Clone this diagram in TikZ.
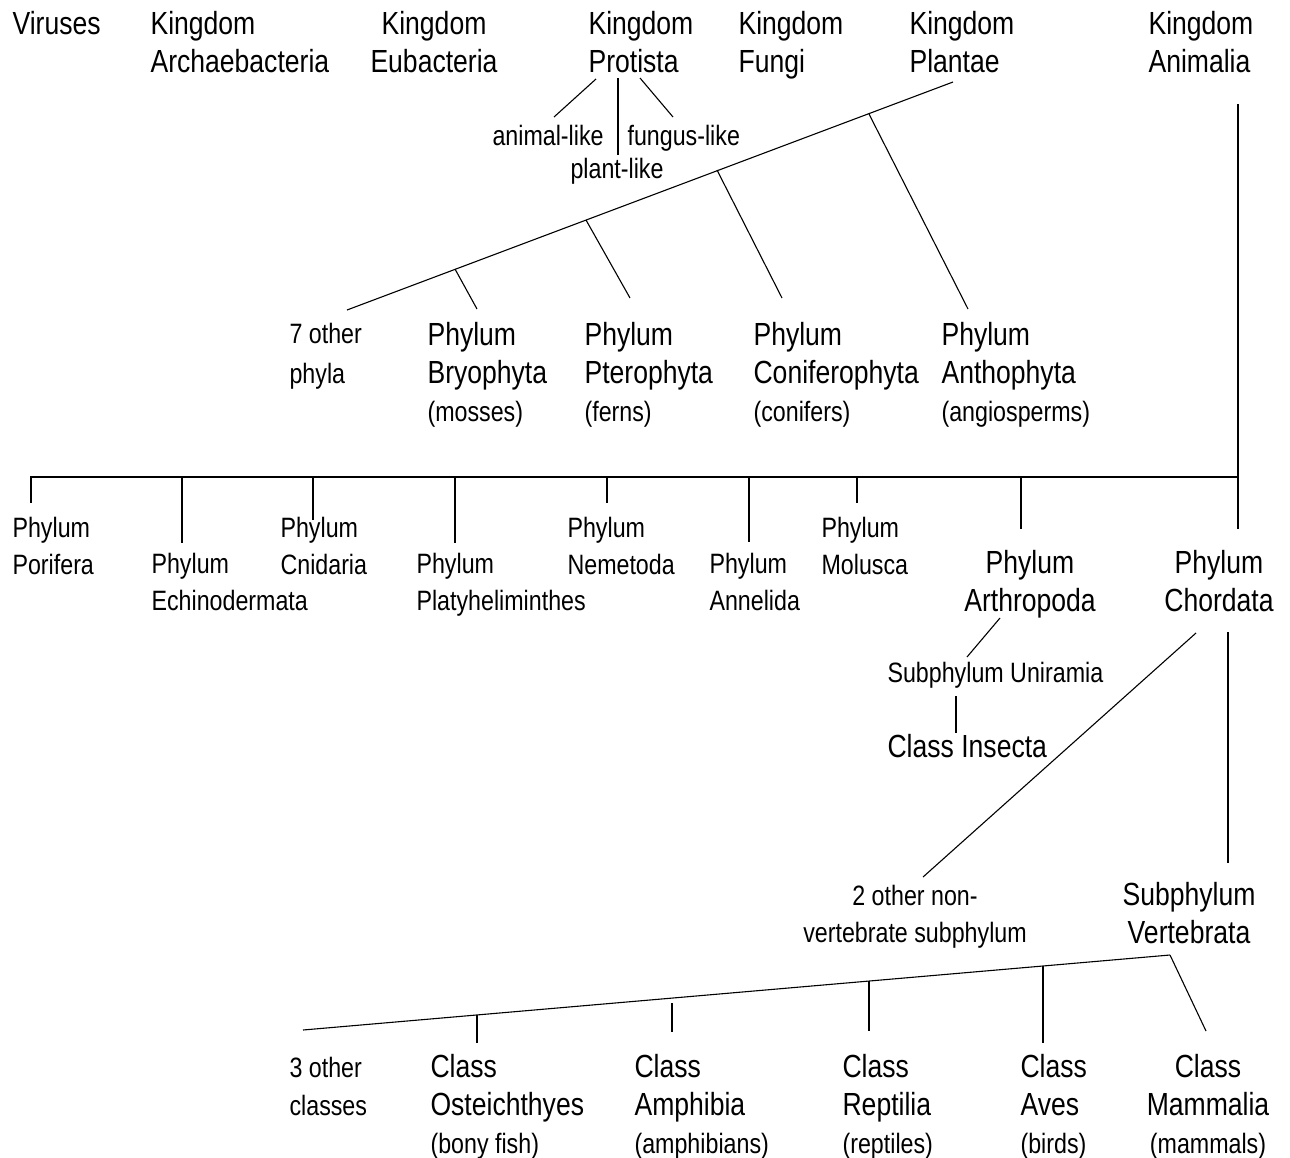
\documentclass[tikz,border=0pt]{standalone}
\usepackage{fontspec}
\setmainfont{Liberation Sans}[FakeStretch=0.83]
\newcommand{\commonname}[1]{{\fontsize{28}{34}\selectfont #1}}
\begin{document}
\begin{tikzpicture}[x=1pt,y=-1pt,line width=1.1pt,
                    big node/.style={font=\fontsize{32}{38}\selectfont,inner sep=0pt,anchor=north west,align=left},
                    small node/.style={font=\fontsize{28}{37}\selectfont,inner sep=0pt,anchor=north west,align=left}]
  \useasboundingbox[fill=white] (0,0) rectangle (1290,1157);

  % kingdoms
  \node[big node] (viruses) at (12,10.5) {Viruses};
  \node[big node] (archae) at (150,10.5) {Kingdom\\Archaebacteria};
  \node[big node,anchor=north,align=center] (eubact) at (434,10.5) {Kingdom\\Eubacteria};
  \node[big node] (protista) at (588,10.5) {Kingdom\\Protista};
  \node[big node] (fungi) at (738,10.5) {Kingdom\\Fungi};
  \node[big node] (plantae) at (909,10.5) {Kingdom\\Plantae};
  \node[big node] (animalia) at (1148,10.5) {Kingdom\\Animalia};

  % protists
  \node[small node] (animal) at (492,125) {animal-like};
  \node[small node] (fungus) at (627,125) {fungus-like};
  \node[small node] (plant) at (570,158) {plant-like};

  % plant phyla
  \node[small node] (otherphyla) at (289,323) {7 other\\[3pt]phyla};
  \node[big node] (bryo) at (427,321.5) {Phylum\\Bryophyta\\\commonname{(mosses)}};
  \node[big node] (ptero) at (584,321.5) {Phylum\\Pterophyta\\\commonname{(ferns)}};
  \node[big node] (conif) at (753,321.5) {Phylum\\Coniferophyta\\\commonname{(conifers)}};
  \node[big node] (antho) at (941,321.5) {Phylum\\Anthophyta\\\commonname{(angiosperms)}};

  % animal phyla
  \node[small node] (porifera) at (12,517) {Phylum\\Porifera};
  \node[small node] (echino) at (151,553) {Phylum\\Echinodermata};
  \node[small node] (cnidaria) at (280,517) {Phylum\\Cnidaria};
  \node[small node] (platy) at (416,553) {Phylum\\Platyheliminthes};
  \node[small node] (nemat) at (567,517) {Phylum\\Nemetoda};
  \node[small node] (annel) at (709,553) {Phylum\\Annelida};
  \node[small node] (mollus) at (821,517) {Phylum\\Molusca};
  \node[big node,anchor=north,align=center] (arthro) at (1030,549.5) {Phylum\\Arthropoda};
  \node[big node,anchor=north,align=center] (chordata) at (1219,549.5) {Phylum\\Chordata};

  \node[small node] (uniramia) at (887,662) {Subphylum Uniramia};
  \node[big node] (insecta) at (887,733.5) {Class Insecta};
  \node[small node,anchor=north,align=center] (nonvert) at (915,885) {2 other non-\\vertebrate subphylum};
  \node[big node,anchor=north,align=center] (vertebr) at (1189,881.5) {Subphylum\\Vertebrata};

  % classes
  \node[small node] (otherclass) at (289,1057) {3 other\\[1pt]classes};
  \node[big node] (osteich) at (430,1053.5) {Class\\Osteichthyes\\\commonname{(bony fish)}};
  \node[big node] (amphib) at (634,1053.5) {Class\\Amphibia\\\commonname{(amphibians)}};
  \node[big node] (reptil) at (842,1053.5) {Class\\Reptilia\\\commonname{(reptiles)}};
  \node[big node] (aves) at (1020,1053.5) {Class\\Aves\\\commonname{(birds)}};
  \node[big node,anchor=north,align=center] (mammal) at (1208,1053.5) {Class\\Mammalia\\\commonname{(mammals)}};

  % line ends
  \coordinate (pr-a) at (596,79);  \coordinate (animal-t) at (554,117);
  \coordinate (pr-p) at (618,78);  \coordinate (plant-t) at (618,155);
  \coordinate (pr-f) at (640,78);  \coordinate (fungus-t) at (673,117);

  \coordinate (pl-top) at (953,82);  \coordinate (pl-end) at (347,310);
  \coordinate (pl-1) at (455,269);   \coordinate (bryo-t) at (477,309);
  \coordinate (pl-2) at (586,220);   \coordinate (ptero-t) at (630,298);
  \coordinate (pl-3) at (717,170);   \coordinate (conif-t) at (782,298);
  \coordinate (pl-4) at (869,114);   \coordinate (antho-t) at (968,309);

  \coordinate (an-top) at (1238,104); \coordinate (an-bar) at (1238,477);
  \coordinate (chord-t) at (1238,529); \coordinate (bar-end) at (30,477);
  \coordinate (porifera-t) at (31,503);  \coordinate (echino-t) at (182,543);
  \coordinate (cnidaria-t) at (313,520); \coordinate (platy-t) at (455,543);
  \coordinate (nemat-t) at (607,503);    \coordinate (annel-t) at (749,542);
  \coordinate (mollus-t) at (857,503);   \coordinate (arthro-t) at (1021,529);

  \coordinate (arthro-b) at (1000,618); \coordinate (uniramia-t) at (967,657);
  \coordinate (uniramia-b) at (956,696); \coordinate (insecta-t) at (956,733);
  \coordinate (chord-b1) at (1196,633); \coordinate (nonvert-t) at (923,877);
  \coordinate (chord-b2) at (1228,632); \coordinate (vertebr-t) at (1228,863);

  \coordinate (ve-top) at (1170,955); \coordinate (ve-end) at (303,1030);
  \coordinate (mammal-t) at (1206,1031);
  \coordinate (ve-1) at (477,1015); \coordinate (osteich-t) at (477,1043);
  \coordinate (ve-2) at (672,1003); \coordinate (amphib-t) at (672,1032);
  \coordinate (ve-3) at (869,981);  \coordinate (reptil-t) at (869,1031);
  \coordinate (ve-4) at (1043,966); \coordinate (aves-t) at (1043,1043);

  \path[draw]
    (pr-a) edge (animal-t)
    (pr-p) edge (plant-t)
    (pr-f) edge (fungus-t)
    (pl-top) edge (pl-end)
    (pl-1) edge (bryo-t)
    (pl-2) edge (ptero-t)
    (pl-3) edge (conif-t)
    (pl-4) edge (antho-t)
    (an-top) edge (chord-t)
    (an-bar) edge (bar-end)
    (porifera-t |- an-bar) edge (porifera-t)
    (echino-t |- an-bar) edge (echino-t)
    (cnidaria-t |- an-bar) edge (cnidaria-t)
    (platy-t |- an-bar) edge (platy-t)
    (nemat-t |- an-bar) edge (nemat-t)
    (annel-t |- an-bar) edge (annel-t)
    (mollus-t |- an-bar) edge (mollus-t)
    (arthro-t |- an-bar) edge (arthro-t)
    (arthro-b) edge (uniramia-t)
    (uniramia-b) edge (insecta-t)
    (chord-b1) edge (nonvert-t)
    (chord-b2) edge (vertebr-t)
    (ve-top) edge (ve-end)
    (ve-top) edge (mammal-t)
    (ve-1) edge (osteich-t)
    (ve-2) edge (amphib-t)
    (ve-3) edge (reptil-t)
    (ve-4) edge (aves-t);

\end{tikzpicture}
\end{document}
